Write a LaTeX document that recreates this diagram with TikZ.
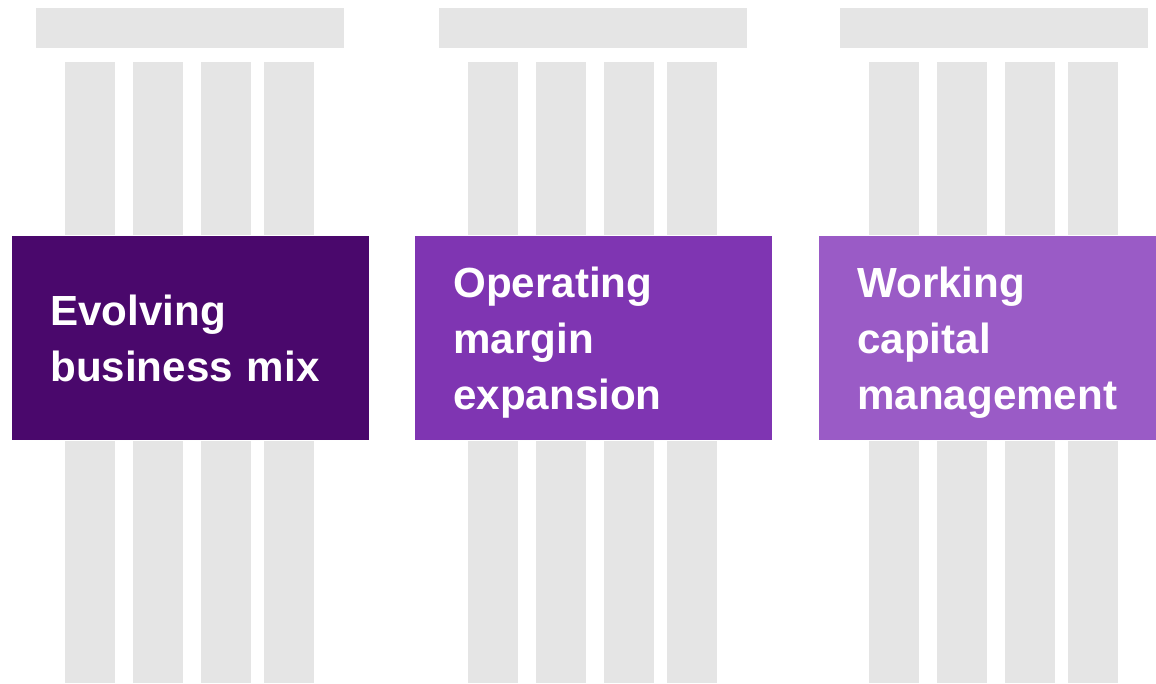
\documentclass[tikz,border=0pt]{standalone}
\usepackage{fontspec}
\setmainfont{Liberation Sans}
\definecolor{capgray}{HTML}{E5E5E5}
\definecolor{mixpurple}{HTML}{4A086C}
\definecolor{marginpurple}{HTML}{7F35B2}
\definecolor{capitalpurple}{HTML}{9A5BC6}
\tikzset{
  pillarbox/.style={draw=white, line width=0.4pt, anchor=north west, rectangle,
    minimum width=268.5pt, minimum height=153.75pt, inner xsep=29.25pt,
    text width=210pt, align=left, text=white,
    font={\fontsize{31.6}{42}\selectfont\bfseries}}
}
\begin{document}
\begin{tikzpicture}[x=0.75pt, y=-0.75pt]
  \useasboundingbox (0,0) rectangle (1156,683);
  % three pillars: cap, four columns, label box
  \foreach \px/\bx/\col/\nm/\txt in {36/11/mixpurple/mix/{Evolving\\\smash{business mix}},
      439/414/marginpurple/margin/{Operating\\margin\\\smash{expansion}},
      840/818/capitalpurple/capital/{Working\\capital\\\smash{management}}} {
    \fill[capgray] (\px, 8) rectangle ++(308, 40);
    \foreach \cx in {29, 97, 165, 228}
      \fill[capgray] (\px+\cx, 62) rectangle ++(50, 621);
    \node[pillarbox, fill=\col] (\nm) at (\bx, 235) {\txt};
  }
\end{tikzpicture}
\end{document}
